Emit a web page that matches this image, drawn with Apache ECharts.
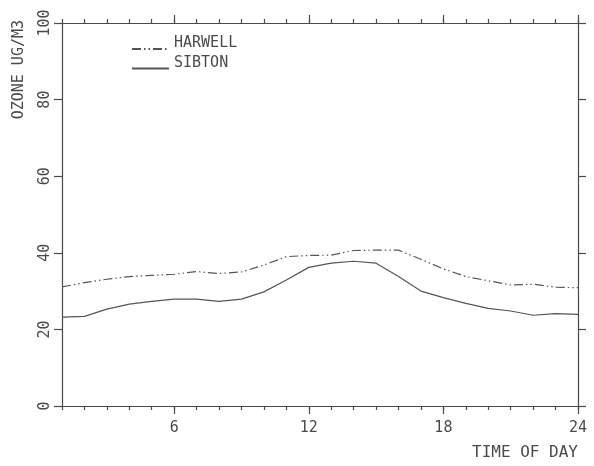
<!DOCTYPE html>
<html>
<head>
<meta charset="utf-8">
<script src="https://cdn.jsdelivr.net/npm/echarts@6/dist/echarts.min.js"></script>
<style>
html,body{margin:0;padding:0;background:#fff;}
#c{width:594px;height:466px;}
</style>
</head>
<body>
<div id="c"></div>
<script>
var hours = [1,2,3,4,5,6,7,8,9,10,11,12,13,14,15,16,17,18,19,20,21,22,23,24];
var harwell = [31.1,32.2,33.1,33.8,34.1,34.4,35.1,34.6,35.0,36.8,39.0,39.3,39.4,40.6,40.7,40.7,38.3,35.8,33.8,32.7,31.6,31.8,31.0,30.9];
var sibton = [23.2,23.4,25.3,26.6,27.3,27.9,27.9,27.3,27.9,29.8,32.9,36.2,37.3,37.8,37.3,33.8,30.0,28.3,26.8,25.5,24.8,23.7,24.1,23.9];
var xMajor = [6,12,18,24];
var yTicks = [0,20,40,60,80,100];
var seriesNames = ['HARWELL','SIBTON'];
var xTitle = 'TIME OF DAY';
var yTitle = 'OZONE UG/M3';

var ink = '#4a4a4a';
var font = 'DejaVu Sans Mono';
var lineW = 1.2;

function pts(vals){ return hours.map(function(h,i){ return [h, vals[i]]; }); }

function xAx(pos, major, extra){
  var a = {
    type:'value', position:pos, min:hours[0], max:hours[hours.length-1],
    interval:1, gridIndex:0,
    splitLine:{show:false},
    axisLine:{show:!major, onZero:false, lineStyle:{color:ink,width:lineW}},
    axisTick:{show:true, inside:false, length:major?8:4, lineStyle:{color:ink,width:lineW}},
    axisLabel:{show:false}
  };
  if (major){
    a.axisTick.customValues = xMajor;
    a.axisLabel = {show: pos==='bottom', customValues:xMajor, margin:15, color:ink, fontFamily:font, fontSize:15};
  }
  if (extra) for (var k in extra) a[k]=extra[k];
  return a;
}

var chart = echarts.init(document.getElementById('c'), null, {renderer:'canvas'});
chart.setOption({
  backgroundColor:'#fff',
  animation:false,
  grid:{left:62,right:16,top:23,bottom:60,containLabel:false,outerBoundsMode:'none'},
  legend:{
    orient:'vertical', left:126, top:31, itemWidth:37, itemHeight:14, itemGap:1,
    data:seriesNames,
    itemStyle:{color:'rgba(0,0,0,0)', opacity:0, borderWidth:0},
    formatter:function(n){ return '{t|' + n + '}'; },
    textStyle:{color:ink,fontFamily:font,fontSize:15,
      rich:{t:{color:ink,fontFamily:font,fontSize:15,padding:[0,0,11,0]}}}
  },
  xAxis:[
    xAx('bottom', false),
    xAx('bottom', true, {name:xTitle, nameLocation:'end', nameGap:0,
      nameTextStyle:{color:ink,fontFamily:font,fontSize:16,align:'right',verticalAlign:'top',padding:[39,0,0,0]}}),
    xAx('top', false),
    xAx('top', true)
  ],
  yAxis:[
    {type:'value', position:'left', min:yTicks[0], max:yTicks[yTicks.length-1], interval:20,
     splitLine:{show:false},
     axisLine:{show:true,lineStyle:{color:ink,width:lineW}},
     axisTick:{show:true,length:8,lineStyle:{color:ink,width:lineW}},
     axisLabel:{rotate:90,margin:9,color:ink,fontFamily:font,fontSize:15},
     name:yTitle, nameLocation:'end', nameRotate:90, nameGap:3,
     nameTextStyle:{color:ink,fontFamily:font,fontSize:15,align:'right',verticalAlign:'bottom',padding:[0,0,35,0]}
    },
    {type:'value', position:'right', min:yTicks[0], max:yTicks[yTicks.length-1], interval:20,
     splitLine:{show:false},
     axisLine:{show:true,lineStyle:{color:ink,width:lineW}},
     axisTick:{show:true,length:8,lineStyle:{color:ink,width:lineW}},
     axisLabel:{show:false}
    }
  ],
  series:[
    {name:seriesNames[0], type:'line', xAxisIndex:0, yAxisIndex:0, symbol:'none',
     data:pts(harwell), lineStyle:{color:'#555',width:1.2,type:[9,3,1.5,3,1.5,3]}, itemStyle:{color:'#555'}},
    {name:seriesNames[1], type:'line', xAxisIndex:0, yAxisIndex:0, symbol:'none',
     data:pts(sibton), lineStyle:{color:'#555',width:1.2,type:'solid'}, itemStyle:{color:'#555'}}
  ]
});
</script>
</body>
</html>
